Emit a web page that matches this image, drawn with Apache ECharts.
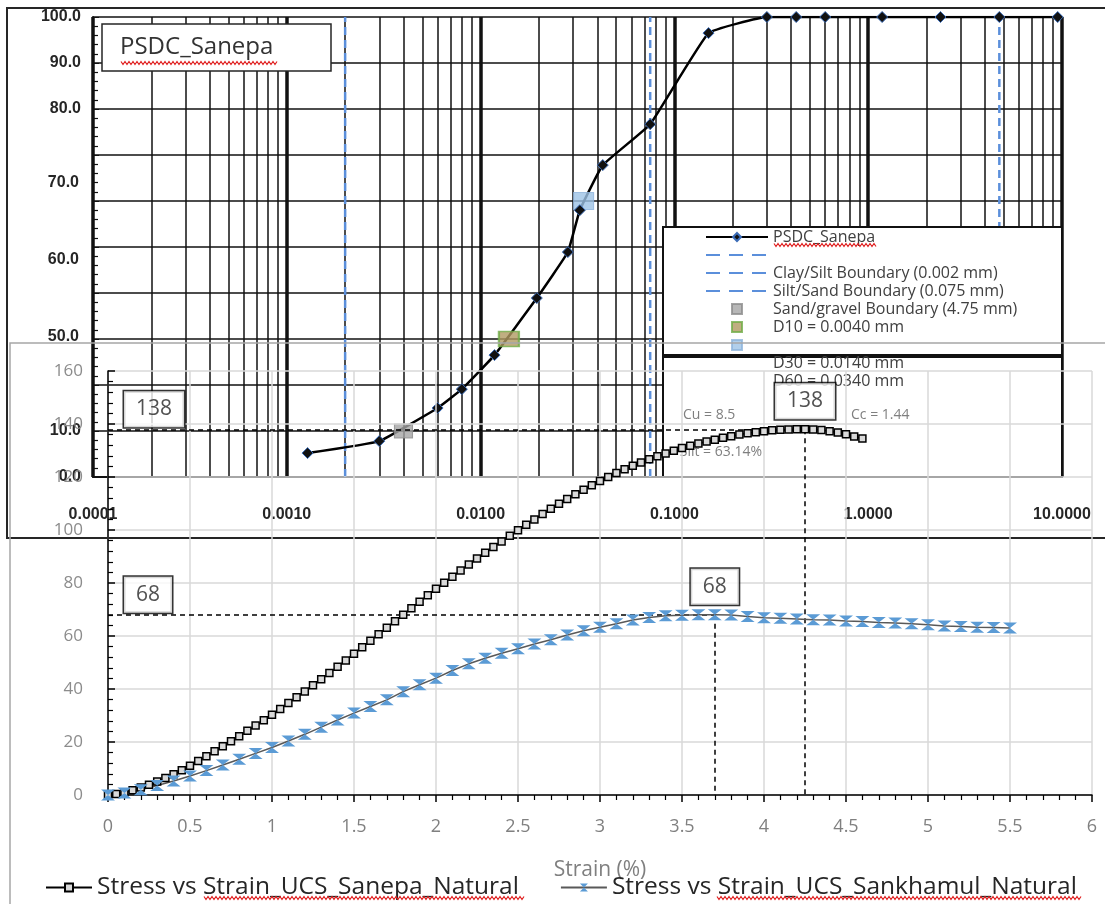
<!DOCTYPE html>
<html>
<head>
<meta charset="utf-8">
<script src="https://cdn.jsdelivr.net/npm/echarts@6/dist/echarts.min.js"></script>
<style>
html, body { margin: 0; padding: 0; background: #fff; }
#main { width: 1105px; height: 904px; }
</style>
</head>
<body>
<div id="main"></div>
<script>
// ---- grain size curve (log x) ----
var psdDiameter = [0.00128, 0.003, 0.006, 0.008, 0.0118, 0.0195, 0.0282, 0.0325, 0.0427, 0.075, 0.15, 0.3, 0.425, 0.6, 1.18, 2.36, 4.75, 9.5];
var psdPassing  = [5.2, 7.8, 15.0, 19.1, 26.5, 38.9, 48.9, 58.0, 67.8, 76.7, 96.5, 100, 100, 100, 100, 100, 100, 100];
var boundaryNames    = [' ', 'Clay/Silt Boundary (0.002 mm)', 'Silt/Sand Boundary (0.075 mm)'];
var boundaryDiameter = [4.75, 0.002, 0.075];
var dNames    = ['Sand/gravel Boundary (4.75 mm)', 'D10 = 0.0040 mm', '  '];
var dDiameter = [0.004, 0.014, 0.034];
var dPassing  = [10, 30, 60];
var textOnlyLegend = ['D30 = 0.0140 mm', 'D60 = 0.0340 mm'];
var psdYLabels = [0, 10, 80, 90, 100];
var psdYLabelsShifted = [50, 60, 70];
var notes = ['Cu = 8.5', 'Cc = 1.44', 'Silt = 63.14%'];

// ---- stress vs strain ----
var sanepaStrain = [0, 0.05, 0.1, 0.15, 0.2, 0.25, 0.3, 0.35, 0.4, 0.45,
  0.5, 0.55, 0.6, 0.65, 0.7, 0.75, 0.8, 0.85, 0.9, 0.95,
  1.0, 1.05, 1.1, 1.15, 1.2, 1.25, 1.3, 1.35, 1.4, 1.45,
  1.5, 1.55, 1.6, 1.65, 1.7, 1.75, 1.8, 1.85, 1.9, 1.95,
  2.0, 2.05, 2.1, 2.15, 2.2, 2.25, 2.3, 2.35, 2.4, 2.45,
  2.5, 2.55, 2.6, 2.65, 2.7, 2.75, 2.8, 2.85, 2.9, 2.95,
  3.0, 3.05, 3.1, 3.15, 3.2, 3.25, 3.3, 3.35, 3.4, 3.45,
  3.5, 3.55, 3.6, 3.65, 3.7, 3.75, 3.8, 3.85, 3.9, 3.95,
  4.0, 4.05, 4.1, 4.15, 4.2, 4.25, 4.3, 4.35, 4.4, 4.45,
  4.5, 4.55, 4.6];
var sanepaStress = [0, 0.4, 1.0, 1.8, 2.8, 3.9, 5.1, 6.4, 7.8, 9.3,
  11.0, 12.8, 14.6, 16.5, 18.4, 20.3, 22.2, 24.2, 26.2, 28.2,
  30.3, 32.5, 34.7, 36.9, 39.1, 41.4, 43.7, 46.0, 48.4, 50.8,
  53.3, 55.8, 58.2, 60.7, 63.1, 65.6, 68.0, 70.5, 72.9, 75.4,
  77.8, 80.1, 82.4, 84.7, 87.0, 89.2, 91.4, 93.6, 95.7, 97.8,
  99.9, 102.0, 104.0, 106.0, 108.0, 109.9, 111.7, 113.5, 115.2, 116.9,
  118.5, 120.0, 121.5, 122.9, 124.2, 125.5, 126.7, 127.8, 128.9, 129.9,
  130.9, 131.8, 132.6, 133.4, 134.1, 134.8, 135.4, 136.0, 136.5, 136.9,
  137.3, 137.6, 137.8, 137.9, 138.0, 138.0, 137.9, 137.7, 137.3, 136.8,
  136.1, 135.3, 134.5];
var sankhamulStrain = [0, 0.1, 0.2, 0.3, 0.4, 0.5, 0.6, 0.7, 0.8, 0.9,
  1.0, 1.1, 1.2, 1.3, 1.4, 1.5, 1.6, 1.7, 1.8, 1.9,
  2.0, 2.1, 2.2, 2.3, 2.4, 2.5, 2.6, 2.7, 2.8, 2.9,
  3.0, 3.1, 3.2, 3.3, 3.4, 3.5, 3.6, 3.7, 3.8, 3.9,
  4.0, 4.1, 4.2, 4.3, 4.4, 4.5, 4.6, 4.7, 4.8, 4.9,
  5.0, 5.1, 5.2, 5.3, 5.4, 5.5];
var sankhamulStress = [0, 0.8, 2.0, 3.6, 5.3, 7.2, 9.2, 11.3, 13.5, 15.7,
  17.9, 20.4, 22.9, 25.6, 28.3, 30.9, 33.4, 35.9, 39.0, 41.6,
  44.1, 47.0, 49.5, 51.6, 53.5, 55.2, 57.0, 58.6, 60.4, 62.0,
  63.3, 64.6, 66.0, 67.0, 67.6, 67.8, 68.0, 68.0, 67.9, 67.4,
  66.9, 66.7, 66.4, 66.1, 66.0, 65.7, 65.5, 65.1, 64.9, 64.6,
  64.2, 63.8, 63.6, 63.3, 63.2, 63.0];
var peakStrain = [4.25, 3.7];
var peakStress = [138, 68];
var stressNames = ['Stress vs Strain_UCS_Sanepa_Natural', 'Stress vs Strain_UCS_Sankhamul_Natural'];

function zip(a, b) { return a.map(function (v, i) { return [v, b[i]]; }); }

// log minor grid lines 2..9 in each decade
var minorGrid = [];
for (var k = -4; k <= 0; k++) {
  for (var m = 2; m <= 9; m++) {
    var v = m * Math.pow(10, k);
    minorGrid.push({ coords: [[v, 0], [v, 100]] });
  }
}

// red spell-check squiggle
function squiggle(x0, x1, y) {
  var pts = [], up = true;
  for (var x = x0; x <= x1; x += 2) { pts.push([x, up ? y - 1.5 : y + 1.5]); up = !up; }
  return { type: 'polyline', z: 9, shape: { points: pts }, style: { stroke: '#e02020', lineWidth: 1.2, fill: 'none' } };
}

var myChart = echarts.init(document.getElementById('main'));
var hourglass = 'path://M0,0L12,0L0,10L12,10Z';
var square = 'path://M0,0L10,0L10,10L0,10Z';

var series = [];
// minor grid of the log chart
series.push({
  type: 'lines', name: 'grid', coordinateSystem: 'cartesian2d', xAxisIndex: 0, yAxisIndex: 0,
  z: 0, silent: true, lineStyle: { color: '#111', width: 1.5, opacity: 1 },
  data: minorGrid
});
boundaryNames.forEach(function (n, i) {
  series.push({
    type: 'line', name: n, xAxisIndex: 0, yAxisIndex: 0, z: 1, symbol: 'none',
    lineStyle: { color: '#5b8fdb', width: 2.5, type: [8, 5] }, itemStyle: { color: 'rgba(0,0,0,0)' },
    data: [[boundaryDiameter[i], 0], [boundaryDiameter[i], 100]]
  });
});
var dStyles = [
  { color: '#a5a5a5', borderColor: '#8c8c8c', borderWidth: 1, size: [18, 14] },
  { color: '#b09a62', borderColor: '#70ad47', borderWidth: 2, size: [20, 15] },
  { color: '#9dc3e6', borderColor: '#8fb4dc', borderWidth: 1, size: [20, 17] }
];
dNames.forEach(function (n, i) {
  series.push({
    type: 'scatter', name: n, xAxisIndex: 0, yAxisIndex: 0, z: 1, symbol: 'rect',
    symbolSize: dStyles[i].size,
    itemStyle: { color: dStyles[i].color, borderColor: dStyles[i].borderColor, borderWidth: dStyles[i].borderWidth },
    data: [[dDiameter[i], dPassing[i]]]
  });
});
textOnlyLegend.forEach(function (n) {
  series.push({ type: 'scatter', name: n, xAxisIndex: 0, yAxisIndex: 0, data: [], itemStyle: { color: 'rgba(0,0,0,0)' } });
});
series.push({
  type: 'line', name: 'PSDC_Sanepa', xAxisIndex: 0, yAxisIndex: 0, z: 1, smooth: 0.1,
  symbol: 'diamond', symbolSize: 11,
  itemStyle: { color: '#111', borderColor: '#3b6cb7', borderWidth: 1 },
  lineStyle: { color: '#000', width: 2.5 },
  data: zip(psdDiameter, psdPassing)
});

// stress vs strain (grid 1, yAxis 2)
var guide = { color: '#000', width: 1.5, type: [5, 4] };
series.push({
  type: 'line', name: stressNames[0], xAxisIndex: 1, yAxisIndex: 2, z: 5,
  symbol: 'rect', symbolSize: 7,
  itemStyle: { color: '#d9d9d9', borderColor: '#000', borderWidth: 1.5 },
  lineStyle: { color: '#000', width: 1.5 },
  data: zip(sanepaStrain, sanepaStress),
  markLine: { silent: true, symbol: 'none', label: { show: false }, lineStyle: guide,
    data: [[{ coord: [0, peakStress[0]] }, { coord: [peakStrain[0], peakStress[0]] }],
           [{ coord: [peakStrain[0], peakStress[0]] }, { coord: [peakStrain[0], 0] }]] }
});
series.push({
  type: 'line', name: stressNames[1], xAxisIndex: 1, yAxisIndex: 2, z: 5,
  symbol: hourglass, symbolSize: [14, 11],
  itemStyle: { color: '#5b9bd5' },
  lineStyle: { color: '#595959', width: 1.5 },
  data: zip(sankhamulStrain, sankhamulStress),
  markLine: { silent: true, symbol: 'none', label: { show: false }, lineStyle: guide,
    data: [[{ coord: [0, peakStress[1]] }, { coord: [peakStrain[1], peakStress[1]] }],
           [{ coord: [peakStrain[1], peakStress[1]] }, { coord: [peakStrain[1], 0] }]] }
});
var boxLabel = { show: true, fontSize: 21, lineHeight: 24, color: '#262626', backgroundColor: '#fff',
  borderColor: '#000', borderWidth: 1.5, padding: [6, 12], fontFamily: 'Open Sans' };
var annoData = [];
peakStress.forEach(function (v, i) {
  annoData.push({ value: [0, v], label: Object.assign({}, boxLabel, { position: [16, -38], formatter: String(v) }) });
  annoData.push({ value: [peakStrain[i], v], label: Object.assign({}, boxLabel, { position: 'top', distance: 10, formatter: String(v) }) });
});
series.push({ type: 'scatter', name: 'anno', xAxisIndex: 1, yAxisIndex: 2, z: 8, symbolSize: 0, silent: true, data: annoData });

var noteStyle = { fontSize: 14, fontFamily: 'Open Sans', fill: '#7f7f7f', verticalAlign: 'middle' };
var graphics = [
  { type: 'rect', z: 1, shape: { x: 7, y: 8, width: 1110, height: 530 }, style: { fill: 'none', stroke: '#262626', lineWidth: 2 } },
  { type: 'rect', z: 2, shape: { x: 102, y: 24, width: 229, height: 47 }, style: { fill: '#fff', stroke: '#262626', lineWidth: 1.5 } },
  { type: 'text', z: 3, x: 120, y: 47, style: { text: 'PSDC_Sanepa', fontSize: 24, fontFamily: 'Open Sans', fill: '#333', verticalAlign: 'middle' } },
  { type: 'rect', z: 2, shape: { x: 663, y: 227, width: 399, height: 128 }, style: { fill: '#fff', stroke: '#111', lineWidth: 2 } },
  { type: 'rect', z: 2, shape: { x: 663, y: 357, width: 399, height: 120 }, style: { fill: '#fff', stroke: '#111', lineWidth: 2 } },
  { type: 'text', z: 3, x: 683, y: 415, style: Object.assign({ text: notes[0] }, noteStyle) },
  { type: 'text', z: 3, x: 851, y: 415, style: Object.assign({ text: notes[1] }, noteStyle) },
  { type: 'text', z: 3, x: 762, y: 452, style: Object.assign({ text: notes[2], align: 'right' }, noteStyle) },
  { type: 'rect', z: 7, shape: { x: 10, y: 343, width: 1100, height: 570 }, style: { fill: 'none', stroke: '#a6a6a6', lineWidth: 1.5 } },
  squiggle(121, 277, 63),
  squiggle(774, 876, 245),
  squiggle(204, 524, 898),
  squiggle(717, 1082, 898)
];

var psdLegendData = [{ name: 'PSDC_Sanepa' }];
boundaryNames.forEach(function (n) { psdLegendData.push({ name: n, lineStyle: { type: [14, 9] } }); });
dNames.forEach(function (n) { psdLegendData.push({ name: n, icon: square }); });
textOnlyLegend.forEach(function (n) { psdLegendData.push({ name: n, icon: square }); });

myChart.setOption({
  animation: false,
  backgroundColor: '#fff',
  textStyle: { fontFamily: 'Liberation Sans' },
  grid: [
    { left: 93, top: 17, width: 969, height: 460 },
    { left: 108, top: 371, width: 984, height: 424 }
  ],
  legend: [{
    z: 3, orient: 'vertical', left: 705, top: 229, padding: 0, selectedMode: false,
    itemWidth: 62, itemHeight: 10, itemGap: 2, symbolKeepAspect: true,
    textStyle: { fontSize: 16, lineHeight: 14, color: '#404040', fontFamily: 'Open Sans' },
    data: psdLegendData
  }, {
    z: 6, left: 45, top: 875, padding: 0, selectedMode: false,
    itemWidth: 46, itemHeight: 10, itemGap: 41,
    textStyle: { fontSize: 24.5, lineHeight: 22, color: '#262626', fontFamily: 'Open Sans' },
    data: stressNames
  }],
  xAxis: [{
    type: 'log', logBase: 10, gridIndex: 0, min: 0.0001, max: 10,
    axisLine: { lineStyle: { color: '#111', width: 2 } },
    axisTick: { show: false },
    splitLine: { show: true, lineStyle: { color: '#111', width: 3.5 } },
    axisLabel: { margin: 30, fontSize: 16, fontWeight: 'bold', color: '#262626',
      formatter: function (v) { return Number(v).toFixed(4); } }
  }, {
    type: 'value', gridIndex: 1, min: 0, max: 6, interval: 0.5, z: 4,
    name: 'Strain (%)', nameLocation: 'middle', nameGap: 65,
    nameTextStyle: { fontSize: 21, color: '#7f7f7f', fontFamily: 'Open Sans' },
    axisLine: { lineStyle: { color: '#000', width: 1.5 } },
    axisTick: { length: 7, lineStyle: { color: '#000', width: 1.5 } },
    minorTick: { show: true, splitNumber: 5, length: 5, lineStyle: { color: '#000', width: 1.2 } },
    splitLine: { show: true, lineStyle: { color: '#d9d9d9', width: 1.5 } },
    axisLabel: { margin: 23, fontSize: 18, color: '#808080', fontFamily: 'Open Sans' }
  }],
  yAxis: [{
    type: 'value', gridIndex: 0, min: 0, max: 100, interval: 10,
    axisLine: { show: true, lineStyle: { color: '#111', width: 2 } },
    axisTick: { show: true, inside: true, length: 6, lineStyle: { color: '#111' } },
    minorTick: { show: true, splitNumber: 5, length: 5, lineStyle: { color: '#111', width: 1.2 } },
    splitLine: { show: true, lineStyle: { color: '#111', width: 1.5 } },
    axisLabel: { customValues: psdYLabels, margin: 12, fontSize: 16, fontWeight: 'bold', color: '#262626',
      formatter: function (v) { return Number(v).toFixed(1); } }
  }, {
    type: 'value', gridIndex: 0, min: 31.82, max: 91.56, position: 'left',
    axisLine: { show: false }, axisTick: { show: false }, splitLine: { show: false },
    axisLabel: { customValues: psdYLabelsShifted, margin: 14, fontSize: 16, fontWeight: 'bold', color: '#262626',
      formatter: function (v) { return Number(v).toFixed(1); } }
  }, {
    type: 'value', gridIndex: 1, min: 0, max: 160, interval: 20, z: 4,
    axisLine: { show: true, lineStyle: { color: '#000', width: 1.5 } },
    axisTick: { show: true, inside: true, length: 7, lineStyle: { color: '#000', width: 1.5 } },
    minorTick: { show: true, splitNumber: 5, length: 5, lineStyle: { color: '#000', width: 1.2 } },
    splitLine: { show: true, lineStyle: { color: '#d9d9d9', width: 1.5 } },
    axisLabel: { margin: 25, fontSize: 17, color: '#8c8c8c', fontFamily: 'Open Sans' }
  }],
  graphic: graphics,
  series: series
});
</script>
</body>
</html>
